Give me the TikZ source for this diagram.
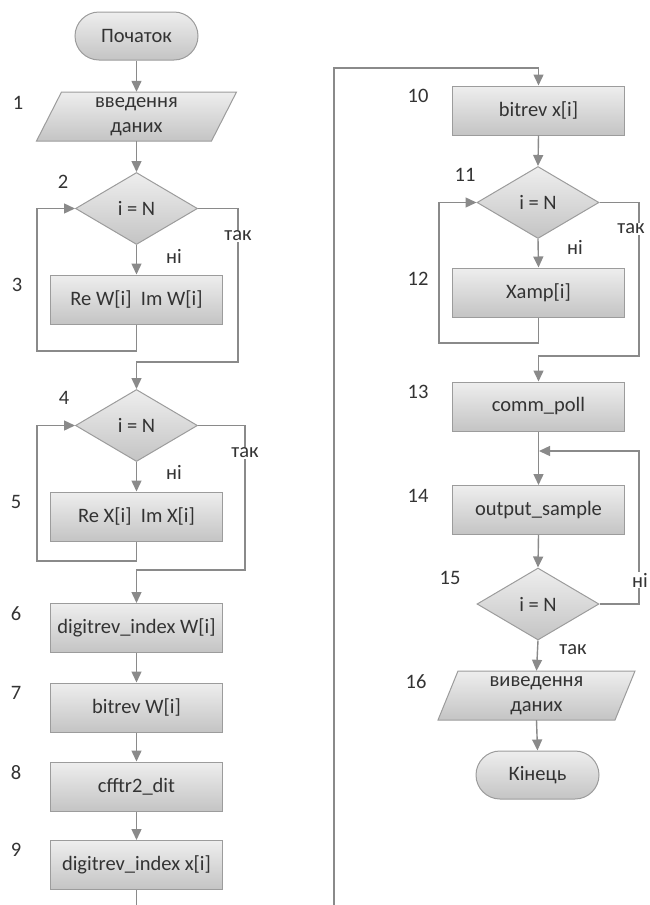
\documentclass[tikz,border=0pt]{standalone}
\usepackage{fontspec}
\setmainfont{Carlito}
\usetikzlibrary{arrows.meta,shapes.geometric}
\definecolor{linec}{HTML}{8A8A8A}
\definecolor{bordc}{HTML}{9C9C9C}
\definecolor{fillt}{HTML}{EEEEEE}
\definecolor{fillb}{HTML}{C4C4C4}
\definecolor{txtc}{HTML}{333333}
\begin{document}
\begin{tikzpicture}[x=1pt,y=-1pt,
  txt/.style={font=\fontsize{20.5}{25}\selectfont, text=txtc},
  shapefill/.style={draw=bordc, line width=1pt, top color=fillt, bottom color=fillb},
  proc/.style={rectangle, shapefill, minimum width=172pt, minimum height=49pt, inner sep=0pt, txt},
  term/.style={rectangle, rounded corners=24pt, shapefill, minimum width=123pt, minimum height=48pt, inner sep=0pt, txt},
  dec/.style={diamond, shapefill, aspect=1.7, minimum width=122pt, minimum height=72pt, inner sep=0pt, txt},
  iotext/.style={rectangle, minimum width=150pt, minimum height=49pt, inner sep=0pt, align=center, txt},
  conn/.style={draw=linec, line width=1.4pt},
  arr/.style={conn, -{Triangle[width=10pt,length=11pt]}},
  lab/.style={txt, inner sep=1pt},
  wlab/.style={txt, fill=white, inner sep=1pt},
  num/.style={txt, anchor=center}]
\useasboundingbox (0,0) rectangle (650,905);

% ---------- left column ----------
\node[term] (start) at (136.5,36) {Початок};

\shadedraw[shapefill] (36.5,141) -- (211.5,141) -- (236.5,92) -- (61.5,92) -- cycle;
\node[iotext] (in1) at (136.5,116.5) {введення\\даних};

\node[dec] (d2) at (136.5,208.5) {i = N};
\node[proc] (b3) at (136.5,299.5) {Re W[i]\ \ Im W[i]};
\node[dec] (d4) at (136.5,425.5) {i = N};
\node[proc] (b5) at (136.5,516.5) {Re X[i]\ \ Im X[i]};
\node[proc] (b6) at (136.5,628) {digitrev\_index W[i]};
\node[proc] (b7) at (136.5,707.5) {bitrev W[i]};
\node[proc] (b8) at (136.5,786.5) {cfftr2\_dit};
\node[proc] (b9) at (136.5,865) {digitrev\_index x[i]};
\coordinate (pgout) at (136.5,905);

\draw[arr] (start.south) -- (in1.north);
\draw[arr] (in1.south) -- (d2.north);
\draw[arr] (d2.south) -- (b3.north);
\draw[arr] (b3.south) |- (37,351) |- (d2.west);
\draw[arr] (d2.east) -| (238,362) -| (d4.north);
\draw[arr] (d4.south) -- (b5.north);
\draw[arr] (b5.south) |- (37,561) |- (d4.west);
\draw[arr] (d4.east) -| (245,570) -| (b6.north);
\draw[arr] (b6.south) -- (b7.north);
\draw[arr] (b7.south) -- (b8.north);
\draw[arr] (b8.south) -- (b9.north);
\draw[conn] (b9.south) -- (pgout);

\node[lab] at (174,256) {ні};
\node[wlab] at (238,236) {так};
\node[lab] at (174,472) {ні};
\node[wlab] at (245,453) {так};

\node[num] at (18,103) {1};
\node[num] at (63,182) {2};
\node[num] at (17,285) {3};
\node[num] at (64,398) {4};
\node[num] at (16,502) {5};
\node[num] at (16,614) {6};
\node[num] at (16,693) {7};
\node[num] at (16,773) {8};
\node[num] at (16,850) {9};

% ---------- right column ----------
\coordinate (pgin) at (334,905);
\node[proc] (b10) at (538.5,110.5) {bitrev x[i]};
\node[dec] (d11) at (538,202.5) {i = N};
\node[proc] (b12) at (538.5,292.5) {Xamp[i]};
\node[proc] (b13) at (538.5,406.5) {comm\_poll};
\node[proc] (b14) at (538.5,510) {output\_sample};
\node[dec] (d15) at (538,604) {i = N};

\shadedraw[shapefill] (438,720) -- (615,720) -- (635,671) -- (458,671) -- cycle;
\node[iotext] (out16) at (536.5,695.5) {виведення\\даних};

\node[term] (fin) at (537.5,775) {Кінець};

\draw[arr] (pgin) -- (334,68) -| (b10.north);
\draw[arr] (b10.south) -- (d11.north);
\draw[arr] (d11.south) -- (b12.north);
\draw[arr] (b12.south) |- (439,343) |- (d11.west);
\draw[arr] (d11.east) -| (639,356) -| (b13.north);
\draw[arr] (b13.south) -- (b14.north);
\draw[arr] (b14.south) -- (d15.north);
\draw[arr] (d15.east) -| (639,451) -- (539,451);
\draw[arr] (d15.south) -- (out16.north);
\draw[arr] (out16.south) -- (fin.north);

\node[lab] at (575,247) {ні};
\node[wlab] at (631,229) {так};
\node[wlab] at (640,580) {ні};
\node[lab] at (573,650) {так};

\node[num] at (418,96) {10};
\node[num] at (465,175) {11};
\node[num] at (418,279) {12};
\node[num] at (418,392) {13};
\node[num] at (418,496) {14};
\node[num] at (450,578) {15};
\node[num] at (416,682) {16};
\end{tikzpicture}
\end{document}
